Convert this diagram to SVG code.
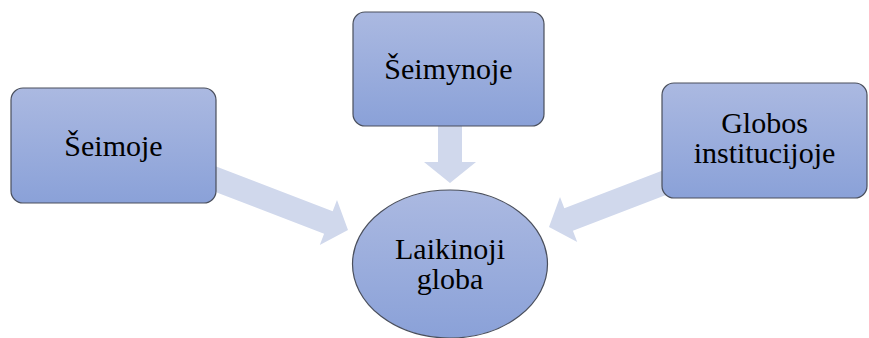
<svg xmlns="http://www.w3.org/2000/svg" width="869" height="338" viewBox="0 0 869 338">
<defs>
<linearGradient id="g" x1="0" y1="0" x2="0" y2="1">
<stop offset="0" stop-color="#abb9e1"/>
<stop offset="1" stop-color="#8aa1d8"/>
</linearGradient>
<style>
.box{fill:url(#g);stroke:#4a4f5c;stroke-width:1.2}
.arr{fill:#d0d8ec}
.t{font-family:"Liberation Serif","Times New Roman",serif;font-size:30px;fill:#000;text-anchor:middle}
</style>
</defs>
<rect width="869" height="338" fill="#fff"/>
<g id="connectors">
<polygon class="arr" transform="translate(348,230) rotate(21)" points="-150,-12 -21,-12 -21,-24 0,0 -21,24 -21,12 -150,12"/>
<polygon class="arr" transform="translate(450,183) rotate(90)" points="-63,-12 -21,-12 -21,-26 0,0 -21,26 -21,12 -63,12"/>
<polygon class="arr" transform="translate(549,227) rotate(159)" points="-150,-12 -21,-12 -21,-24 0,0 -21,24 -21,12 -150,12"/>
</g>
<g id="seimoje">
<rect class="box" x="11" y="88" width="205" height="115" rx="12"/>
<text class="t" x="113.5" y="156">Šeimoje</text>
</g>
<g id="seimynoje">
<rect class="box" x="353" y="12" width="191" height="114" rx="12"/>
<text class="t" x="448.5" y="79">Šeimynoje</text>
</g>
<g id="globos">
<rect class="box" x="662" y="83" width="205" height="115" rx="12"/>
<text class="t" x="764.5" y="133">Globos</text>
<text class="t" x="764.5" y="163">institucijoje</text>
</g>
<g id="laikinoji">
<ellipse class="box" cx="450" cy="264" rx="97.5" ry="74"/>
<text class="t" x="450" y="259">Laikinoji</text>
<text class="t" x="450" y="289">globa</text>
</g>
</svg>
